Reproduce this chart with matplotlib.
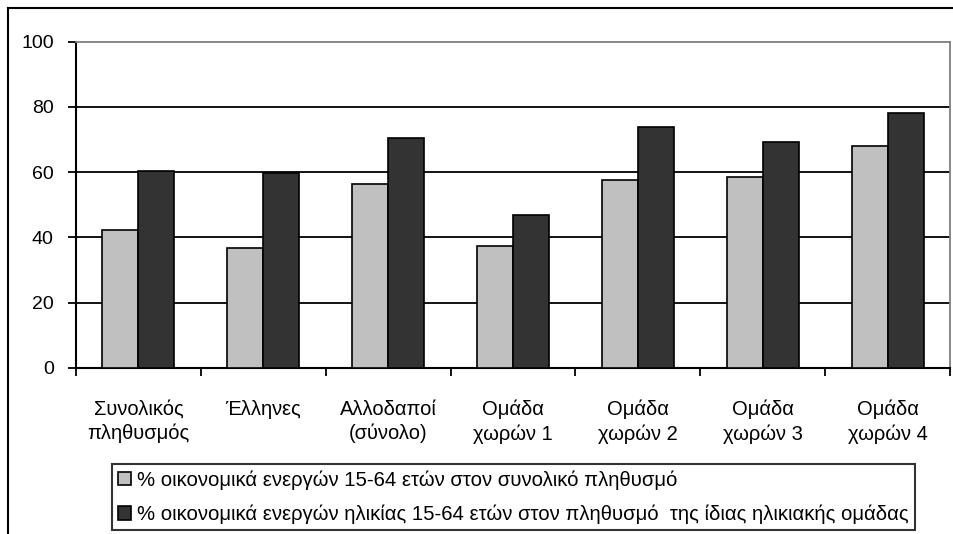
import numpy as np
import matplotlib
matplotlib.use("Agg")
import matplotlib.pyplot as plt
from matplotlib.lines import Line2D

plt.rcParams['font.family'] = ['Liberation Sans', 'DejaVu Sans']

categories = ["Συνολικός\nπληθυσμός", "Έλληνες", "Αλλοδαποί\n(σύνολο)",
              "Ομάδα\nχωρών 1", "Ομάδα\nχωρών 2", "Ομάδα\nχωρών 3", "Ομάδα\nχωρών 4"]
share_total = [42.3, 36.8, 56.3, 37.5, 57.6, 58.6, 68.1]
share_age_group = [60.4, 59.7, 70.3, 46.9, 73.9, 69.3, 78.0]
series_labels = ["% οικονομικά ενεργών 15-64 ετών στον συνολικό πληθυσμό",
                 "% οικονομικά ενεργών ηλικίας 15-64 ετών στον πληθυσμό  της ίδιας ηλικιακής ομάδας"]
y_ticks = [0, 20, 40, 60, 80, 100]

W, H = 954, 534
fig = plt.figure(figsize=(W / 100, H / 100), dpi=100)

# outer chart border (right/bottom cut off in the reference)
fig.add_artist(Line2D([8 / W, 1.0], [1 - 8 / H, 1 - 8 / H], color='black', lw=1.5))
fig.add_artist(Line2D([8 / W, 8 / W], [0, 1 - 8 / H], color='black', lw=1.5))

ax = fig.add_axes([76 / W, (H - 368) / H, 874 / W, 326.5 / H])

x = np.arange(len(categories))
bw = 0.288
b1 = ax.bar(x - bw / 2, share_total, bw, color='#c0c0c0', edgecolor='black', linewidth=1.2,
            label=series_labels[0], zorder=3)
b2 = ax.bar(x + bw / 2, share_age_group, bw, color='#333333', edgecolor='black', linewidth=1.2,
            label=series_labels[1], zorder=3)

ax.set_xlim(-0.5, len(categories) - 0.5)
ax.set_ylim(0, 100)
ax.set_yticks(y_ticks)
ax.set_yticklabels([str(v) for v in y_ticks], fontsize=14)
for v in y_ticks[1:-1]:
    ax.axhline(v, color='black', lw=1.3, zorder=1)

ax.set_xticks(np.arange(len(categories) + 1) - 0.5)
ax.set_xticklabels([])
ax.set_xticks(x, minor=True)
ax.set_xticklabels(categories, minor=True, fontsize=14.5, linespacing=1.3)
ax.tick_params(axis='x', which='minor', length=0, pad=23)
ax.tick_params(axis='x', which='major', length=6, width=1.3, direction='out')
ax.tick_params(axis='y', length=6, width=1.3, direction='out', pad=10)

ax.spines['left'].set_linewidth(1.5)
ax.spines['bottom'].set_linewidth(1.5)
ax.spines['top'].set_color('#808080')
ax.spines['right'].set_color('#808080')
ax.spines['top'].set_linewidth(1.3)
ax.spines['right'].set_linewidth(1.3)

leg = fig.legend(handles=[b1, b2], loc='upper left', bbox_to_anchor=(112 / W, 1 - 464 / H),
                 fontsize=14.6, frameon=True, fancybox=False, edgecolor='black',
                 handlelength=0.65, handleheight=0.65, handletextpad=0.3,
                 borderpad=0.3, labelspacing=0.75, borderaxespad=0)
leg.get_frame().set_linewidth(1.5)

fig.savefig("out.png", dpi=100)
